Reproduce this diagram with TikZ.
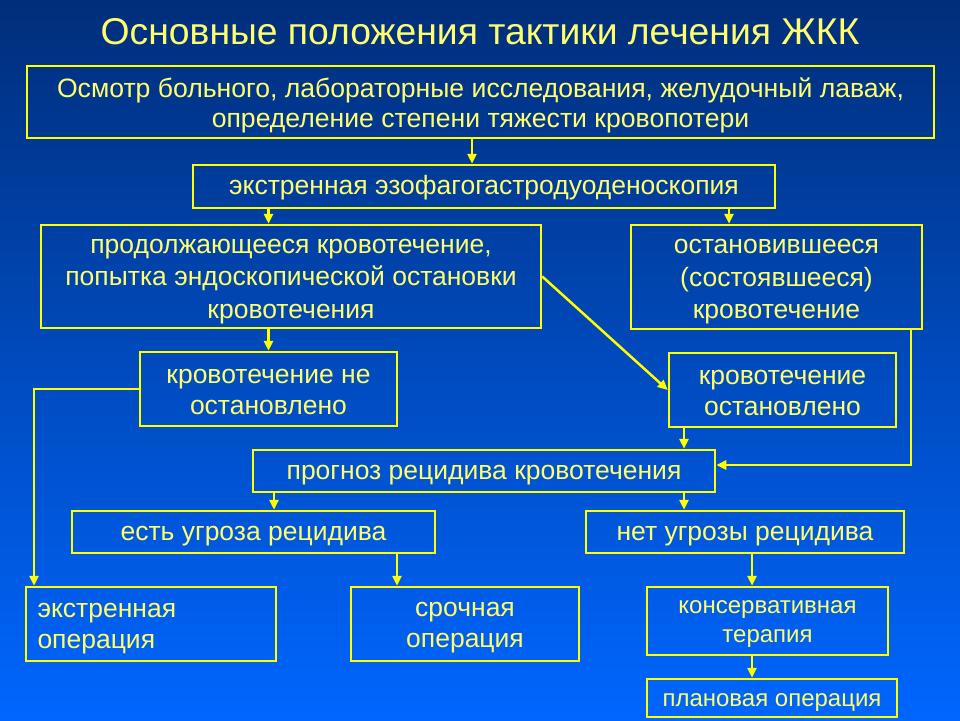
\documentclass[tikz,border=0pt]{standalone}
\usepackage{fontspec}
\setmainfont{Liberation Sans}
\usetikzlibrary{arrows.meta}
\definecolor{bgtop}{RGB}{0,46,122}
\definecolor{bgbot}{RGB}{0,102,255}
\definecolor{lineyellow}{RGB}{255,255,0}
\definecolor{textyellow}{RGB}{255,255,110}
\newcommand\boxstrut{\rule[-0.212em]{0pt}{1.117em}}
\tikzset{
  box/.style={draw=lineyellow, line width=2.5pt, text=textyellow, align=center,
    inner sep=0pt, font=\fontsize{26.5}{31}\selectfont,
    execute at begin node=\boxstrut, execute at end node=\boxstrut},
  lift/.style={text height=#1, text depth=0pt},
  link/.style={draw=lineyellow, line width=2.5pt},
  >={Triangle[length=10pt,width=9pt]}
}
\begin{document}
\begin{tikzpicture}[x=1pt,y=-1pt]
\useasboundingbox (0,0) rectangle (960,720);
\shade[top color=bgtop, bottom color=bgbot] (0,0) rectangle (960,720);
\node[text=textyellow, font=\fontsize{37.3}{40}\selectfont] (title) at (480,32) {Основные положения тактики лечения ЖКК};
% boxes
\node[box, lift=50pt, minimum width=907pt, minimum height=72pt, font=\fontsize{26.6}{30}\selectfont] (exam) at (480.5,102)
  {Осмотр больного, лабораторные исследования, желудочный лаваж,\\ определение степени тяжести кровопотери};
\node[box, lift=15pt, minimum width=582pt, minimum height=43pt] (egds) at (484,186.5) {экстренная эзофагогастродуоденоскопия};
\node[box, lift=83pt, minimum width=500pt, minimum height=103pt, font=\fontsize{26.5}{32.5}\selectfont] (cont) at (291,276.5)
  {продолжающееся кровотечение,\\ попытка эндоскопической остановки\\ кровотечения};
\node[box, lift=83pt, minimum width=291pt, minimum height=104pt, font=\fontsize{26.5}{32.5}\selectfont] (stop) at (776.5,277)
  {остановившееся\\ (состоявшееся)\\ кровотечение};
\node[box, lift=51pt, minimum width=257pt, minimum height=74pt] (notst) at (268.5,389) {кровотечение не\\ остановлено};
\node[box, lift=51pt, minimum width=227pt, minimum height=74pt] (isst) at (782.5,390) {кровотечение\\ остановлено};
\node[box, lift=17pt, minimum width=462pt, minimum height=42pt] (prog) at (484,471) {прогноз рецидива кровотечения};
\node[box, lift=17pt, minimum width=363pt, minimum height=42pt] (risk) at (253.5,532) {есть угроза рецидива};
\node[box, lift=17pt, minimum width=318pt, minimum height=42pt] (norisk) at (745,532) {нет угрозы рецидива};
\node[box, minimum width=250pt, minimum height=74pt, align=left, text width=227pt] (emerg) at (151,624) {экстренная\\ операция};
\node[box, lift=47pt, minimum width=228pt, minimum height=74pt] (urgent) at (465,624) {срочная\\ операция};
\node[box, lift=43pt, minimum width=241pt, minimum height=68pt, font=\fontsize{24}{29}\selectfont] (conserv) at (767.5,621) {консервативная\\ терапия};
\node[box, lift=16.5pt, minimum width=250pt, minimum height=38pt, font=\fontsize{24}{28}\selectfont] (plan) at (772,698) {плановая операция};
% columns for the arrows
\coordinate (c1) at (472,0);
\coordinate (c2) at (729,0);
\coordinate (c3) at (684,0);
\coordinate (c4) at (911,0);
\coordinate (c5) at (274,0);
\coordinate (c6) at (397,0);
\coordinate (c7) at (752,0);
\coordinate (c8) at (34,0);
% connectors
\draw[link,->] (exam.south -| c1) -- (egds.north -| c1);
\draw[link,->] (egds.south -| notst) -- (cont.north -| notst);
\draw[link,->] (egds.south -| c2) -- (stop.north -| c2);
\draw[link,->] (cont.south -| notst) -- (notst.north);
\draw[link,->] (cont.east) -- (isst.west);
\draw[link,->] (notst.west) -| (emerg.north -| c8);
\draw[link,->] (isst.south -| c3) -- (prog.north -| c3);
\draw[link,->] (stop.south -| c4) |- ([yshift=6pt]prog.east);
\draw[link,->] (prog.south -| c5) -- (risk.north -| c5);
\draw[link,->] (prog.south -| c3) -- (norisk.north -| c3);
\draw[link,->] (risk.south -| c6) -- (urgent.north -| c6);
\draw[link,->] (norisk.south -| c7) -- (conserv.north -| c7);
\draw[link,->] (conserv.south -| c7) -- (plan.north -| c7);
\end{tikzpicture}
\end{document}
